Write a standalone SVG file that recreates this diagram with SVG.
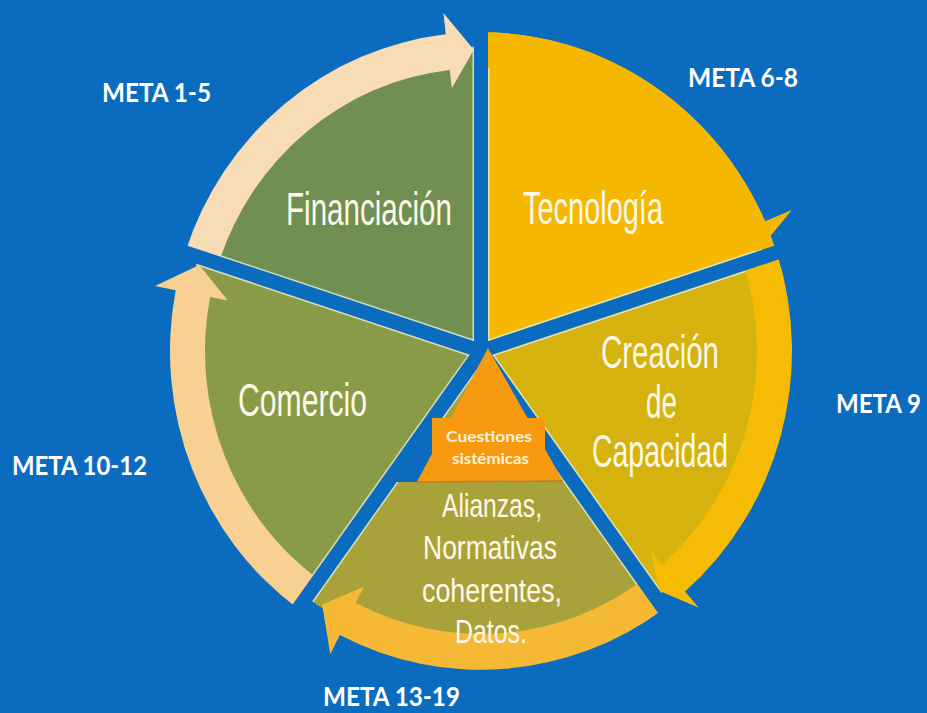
<svg xmlns="http://www.w3.org/2000/svg" width="927" height="713" viewBox="0 0 927 713">
<defs>
<style>
.lbl{font-family:"Liberation Sans Narrow","Liberation Sans",Arial,sans-serif;fill:#fdf9ea;font-size:46px}
.meta{font-family:Lato,"Open Sans",sans-serif;font-weight:700;font-size:26px;fill:#ffffff}
.small{font-family:Lato,"Open Sans",sans-serif;font-weight:700;font-size:16px;fill:#fdf3dc}
.spoke{stroke:#0b6cbf;stroke-width:14;stroke-linecap:butt;fill:none}
.hair{stroke:#e4eccc;stroke-width:17;fill:none;opacity:0.85}
</style>
<clipPath id="innerClip"><circle cx="0" cy="0" r="297"/></clipPath>
</defs>
<rect x="0" y="0" width="927" height="713" fill="#0b6cbf"/>
<g id="pie" transform="translate(481,351) scale(1,1.025)">
  <g id="sectors">
    <g id="node-financiacion"><path d="M0,0 L-282.46,-91.78 A297,297 0 0 1 0,-297 Z" fill="#708f50"/></g>
    <g id="node-tecnologia"><path d="M0,0 L0,-311 A311,311 0 0 1 295.78,-96.10 Z" fill="#f5b700"/></g>
    <g id="node-creacion"><path d="M0,0 L282.46,-91.78 A297,297 0 0 1 174.57,240.28 Z" fill="#d5b20d"/></g>
    <g id="node-alianzas"><path d="M0,0 L174.57,240.28 A297,297 0 0 1 -174.57,240.28 Z" fill="#a9a23a"/></g>
    <g id="node-comercio"><path d="M0,0 L-174.57,240.28 A297,297 0 0 1 -282.46,-91.78 Z" fill="#8a9b48"/></g>
  </g>
  <g id="hairlines" clip-path="url(#innerClip)">
    <line class="hair" x1="0" y1="0" x2="0" y2="-360"/>
    <line class="hair" x1="0" y1="0" x2="342.38" y2="-111.25"/>
    <line class="hair" x1="0" y1="0" x2="211.60" y2="291.25"/>
    <line class="hair" x1="0" y1="0" x2="-211.60" y2="291.25"/>
    <line class="hair" x1="0" y1="0" x2="-342.38" y2="-111.25"/>
  </g>
  <g id="connectors">
    <path id="arrow-financiacion" d="M-295.78,-96.10 A311,311 0 0 1 -35.21,-309.00 L-37.58,-329.87 L-7.18,-293.91 L-29.21,-256.34 L-31.24,-274.23 A276,276 0 0 0 -262.49,-85.29 Z" fill="#f7dcb5"/>
    <path id="arrow-tecnologia" d="M0,-311 A311,311 0 0 1 284.11,-126.50 L310.78,-137.48 L277.31,-97.66 L235.69,-104.94 L252.14,-112.26 A276,276 0 0 0 0,-276 Z" fill="#f5b700"/>
    <path id="arrow-creacion" d="M295.78,-96.10 A311,311 0 0 1 204.03,234.71 L217.81,250.56 L178.16,233.87 L169.26,194.71 L181.07,208.30 A276,276 0 0 0 262.49,-85.29 Z" fill="#f6bb05"/>
    <path id="arrow-alianzas" d="M182.80,251.60 A311,311 0 0 1 -141.19,277.10 L-150.72,295.81 L-158.83,247.40 L-117.13,229.88 L-125.30,245.91 A276,276 0 0 0 162.23,223.29 Z" fill="#f6b935"/>
    <path id="arrow-comercio" d="M-182.80,251.60 A311,311 0 0 1 -305.29,-59.34 L-325.90,-63.35 L-281.75,-83.99 L-253.26,-49.23 L-270.93,-52.66 A276,276 0 0 0 -162.23,223.29 Z" fill="#f8d092"/>
  </g>
  <g id="spokes">
    <line class="spoke" x1="0" y1="0" x2="0" y2="-360"/>
    <line class="spoke" x1="0" y1="0" x2="342.38" y2="-111.25"/>
    <line class="spoke" x1="0" y1="0" x2="211.60" y2="291.25"/>
    <line class="spoke" x1="0" y1="0" x2="-211.60" y2="291.25"/>
    <line class="spoke" x1="0" y1="0" x2="-342.38" y2="-111.25"/>
  </g>
</g>
<polygon points="432,425 432,454 417,482 393,482" fill="#0b6cbf"/>
<g id="node-cuestiones">
  <polygon points="488,348 527.5,418 545,418 545,449 563,481 417,482 432,453.7 432,418 450.9,418" fill="#f79a10"/>
  <line x1="417" y1="482" x2="563" y2="481" stroke="#b97f2c" stroke-width="1.5"/>
  <text class="small" x="446" y="442" textLength="86" lengthAdjust="spacingAndGlyphs">Cuestiones</text>
  <text class="small" x="452" y="464" textLength="77" lengthAdjust="spacingAndGlyphs">sistémicas</text>
</g>
<g id="labels">
  <g id="label-financiacion"><text class="lbl" x="286" y="225" textLength="166" lengthAdjust="spacingAndGlyphs">Financiación</text></g>
  <g id="label-tecnologia"><text class="lbl" x="523" y="224" textLength="140" lengthAdjust="spacingAndGlyphs">Tecnología</text></g>
  <g id="label-comercio"><text class="lbl" x="238" y="416" font-size="48" textLength="129" lengthAdjust="spacingAndGlyphs">Comercio</text></g>
  <g id="label-creacion">
    <text class="lbl" x="601" y="368" textLength="118" lengthAdjust="spacingAndGlyphs">Creación</text>
    <text class="lbl" x="646" y="418" textLength="31" lengthAdjust="spacingAndGlyphs">de</text>
    <text class="lbl" x="592" y="467" textLength="136" lengthAdjust="spacingAndGlyphs">Capacidad</text>
  </g>
  <g id="label-alianzas">
    <text class="lbl" x="442" y="517" style="font-size:34px" textLength="100" lengthAdjust="spacingAndGlyphs">Alianzas,</text>
    <text class="lbl" x="423" y="559" style="font-size:34px" textLength="134" lengthAdjust="spacingAndGlyphs">Normativas</text>
    <text class="lbl" x="422" y="602" style="font-size:34px" textLength="140" lengthAdjust="spacingAndGlyphs">coherentes,</text>
    <text class="lbl" x="455" y="643" style="font-size:34px" textLength="72" lengthAdjust="spacingAndGlyphs">Datos.</text>
  </g>
  <g id="meta-labels">
    <text class="meta" x="102" y="102" textLength="109" lengthAdjust="spacingAndGlyphs">META 1-5</text>
    <text class="meta" x="688" y="87" textLength="110" lengthAdjust="spacingAndGlyphs">META 6-8</text>
    <text class="meta" x="836" y="413" textLength="85" lengthAdjust="spacingAndGlyphs">META 9</text>
    <text class="meta" x="12" y="475" textLength="135" lengthAdjust="spacingAndGlyphs">META 10-12</text>
    <text class="meta" x="323" y="706" textLength="137" lengthAdjust="spacingAndGlyphs">META 13-19</text>
  </g>
</g>
</svg>
